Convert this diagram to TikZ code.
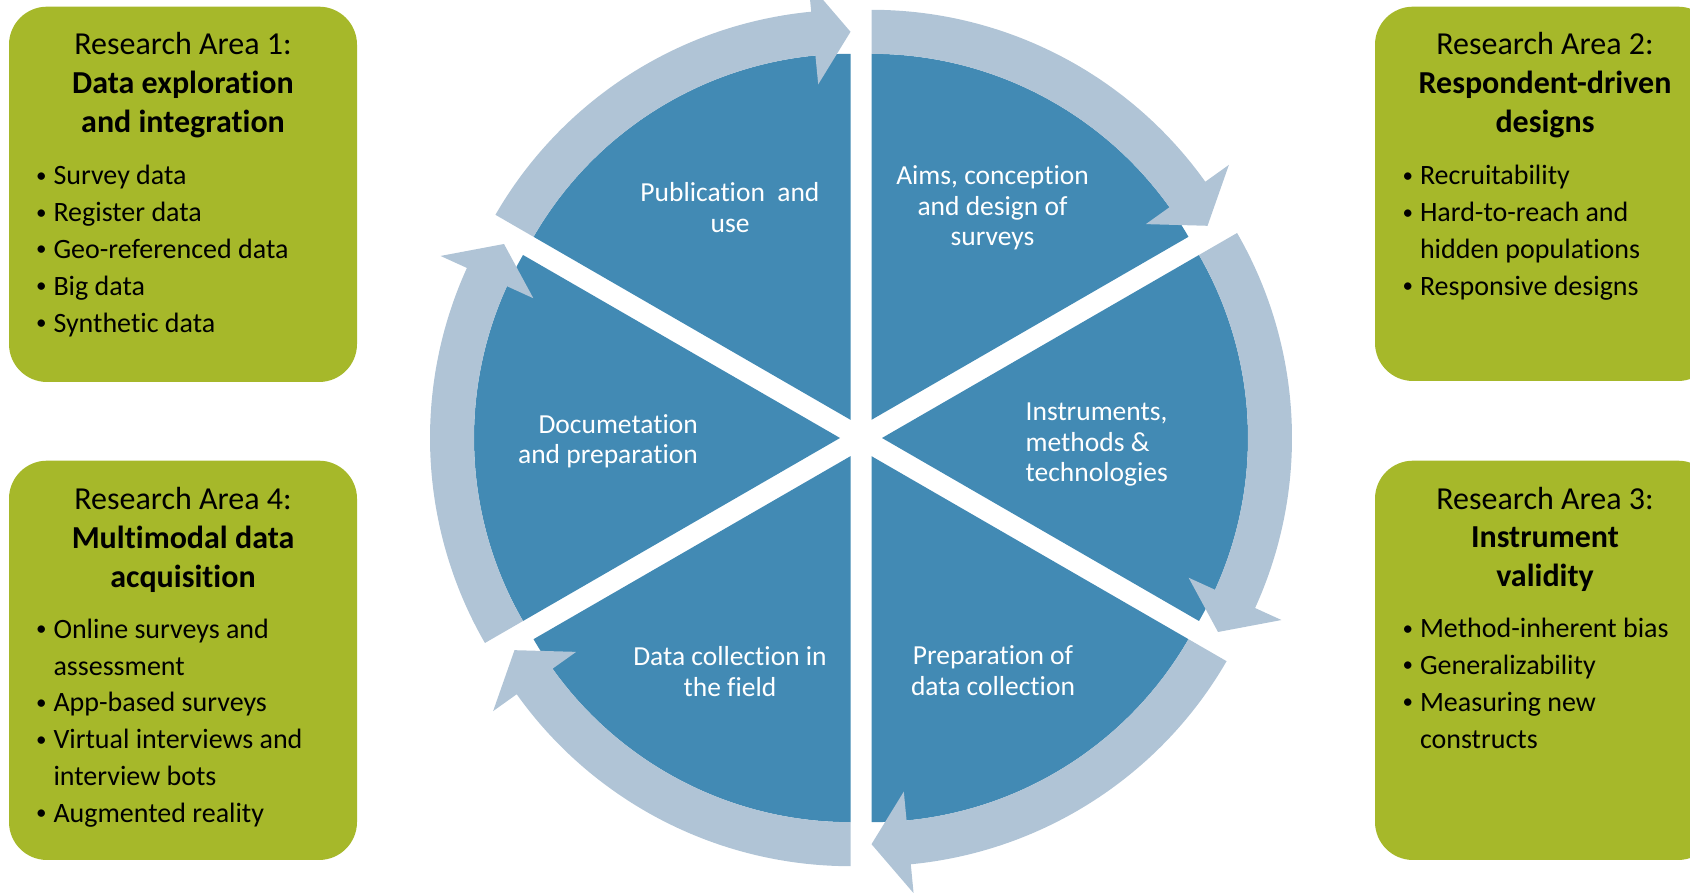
\documentclass[tikz,border=0pt]{standalone}
\usepackage{fontspec}
\setmainfont{Carlito}[Ligatures=NoCommon]
\definecolor{wedgeblue}{RGB}{66,138,180}
\definecolor{bandblue}{RGB}{176,196,214}
\definecolor{boxgreen}{RGB}{166,184,42}
\newcommand\bitem{\makebox[18.3pt][l]{\hspace*{1pt}\raisebox{2.6pt}{\fontsize{21}{21}\selectfont •}}}
\newcommand\bcont{\hspace*{18.3pt}}
\tikzset{
  areabox/.style={fill=boxgreen, rounded corners=38pt},
  areatitle/.style={inner sep=0pt, align=center, anchor=base, font=\fontsize{32}{38.7}\selectfont},
  arealist/.style={inner sep=0pt, align=left, anchor=base west, font=\fontsize{28}{36.8}\selectfont},
  phase/.style={inner sep=0pt, text=white, anchor=base, font=\fontsize{27.5}{30.5}\selectfont},
}
\begin{document}
\begin{tikzpicture}[x=1pt,y=1pt]
\useasboundingbox (0,0) rectangle (1690,893);
\clip (0,0) rectangle (1690,893);
% wedges
\foreach \b in {120,60,0,-60,-120,180} {
  \begin{scope}[shift={(861,455)}, shift={(\b:21)}]
    \pgfmathsetmacro\h{\b-30}
    \pgfmathsetmacro\t{\b+30}
    \fill[wedgeblue] (0,0) -- (\h:366) arc[start angle=\h, end angle=\t, radius=366] -- cycle;
  \end{scope}
}
% circular arrows
\foreach \b in {120,60,0,-60,-120,180} {
  \begin{scope}[shift={(861,455)}, shift={(\b:21)}]
    \pgfmathsetmacro\h{\b-30}
    \pgfmathsetmacro\t{\b+30}
    \pgfmathsetmacro\hb{\h+5.5}
    \fill[bandblue] (\t:366) -- (\t:410) arc[start angle=\t, end angle=\hb, radius=410]
      -- (\hb:439) -- (\h:388) -- (\hb:337) -- (\hb:366)
      arc[start angle=\hb, end angle=\t, radius=366] -- cycle;
  \end{scope}
}
% phase labels (anchor = baseline of the last line)
\node[phase, align=center] (pub) at (730,660.8) {Publication\ \ and\\use};
\node[phase, align=center] (aims) at (992.5,647) {Aims, conception\\and design of\\surveys};
\node[phase, align=left, anchor=base west] (instr) at (1025.5,411.3) {Instruments,\\methods \&\\technologies};
\node[phase, align=right, anchor=base east] (docu) at (698,429.2) {Documetation\\and preparation};
\node[phase, align=center] (field) at (730,196.5) {Data collection in\\the field};
\node[phase, align=center] (prep) at (993,197.5) {Preparation of\\data collection};
% research area boxes
\path[areabox] (9,511) rectangle (357,886.3);
\path[areabox] (9,33) rectangle (357,432.3);
\path[areabox] (1375,512) rectangle (1716,886.3);
\path[areabox] (1375,33) rectangle (1716,432.3);
\node[areatitle] (t1) at (183,760.6) {Research Area 1:\\\textbf{Data exploration}\\\textbf{and integration}};
\node[arealist] (l1) at (35,560.8) {\bitem Survey data\\\bitem Register data\\\bitem Geo-referenced data\\\bitem Big data\\\bitem Synthetic data};
\node[areatitle] (t2) at (1545,760.6) {Research Area 2:\\\textbf{Respondent-driven}\\\textbf{designs}};
\node[arealist] (l2) at (1401.5,597.6) {\bitem Recruitability\\\bitem Hard-to-reach and\\\bcont hidden populations\\\bitem Responsive designs};
\node[areatitle] (t3) at (1545,306.3) {Research Area 3:\\\textbf{Instrument}\\\textbf{validity}};
\node[arealist] (l3) at (1401.5,144.9) {\bitem Method-inherent bias\\\bitem Generalizability\\\bitem Measuring new\\\bcont constructs};
\node[areatitle] (t4) at (183,305.6) {Research Area 4:\\\textbf{Multimodal data}\\\textbf{acquisition}};
\node[arealist] (l4) at (35,70.7) {\bitem Online surveys and\\\bcont assessment\\\bitem App-based surveys\\\bitem Virtual interviews and\\\bcont interview bots\\\bitem Augmented reality};
\end{tikzpicture}
\end{document}
